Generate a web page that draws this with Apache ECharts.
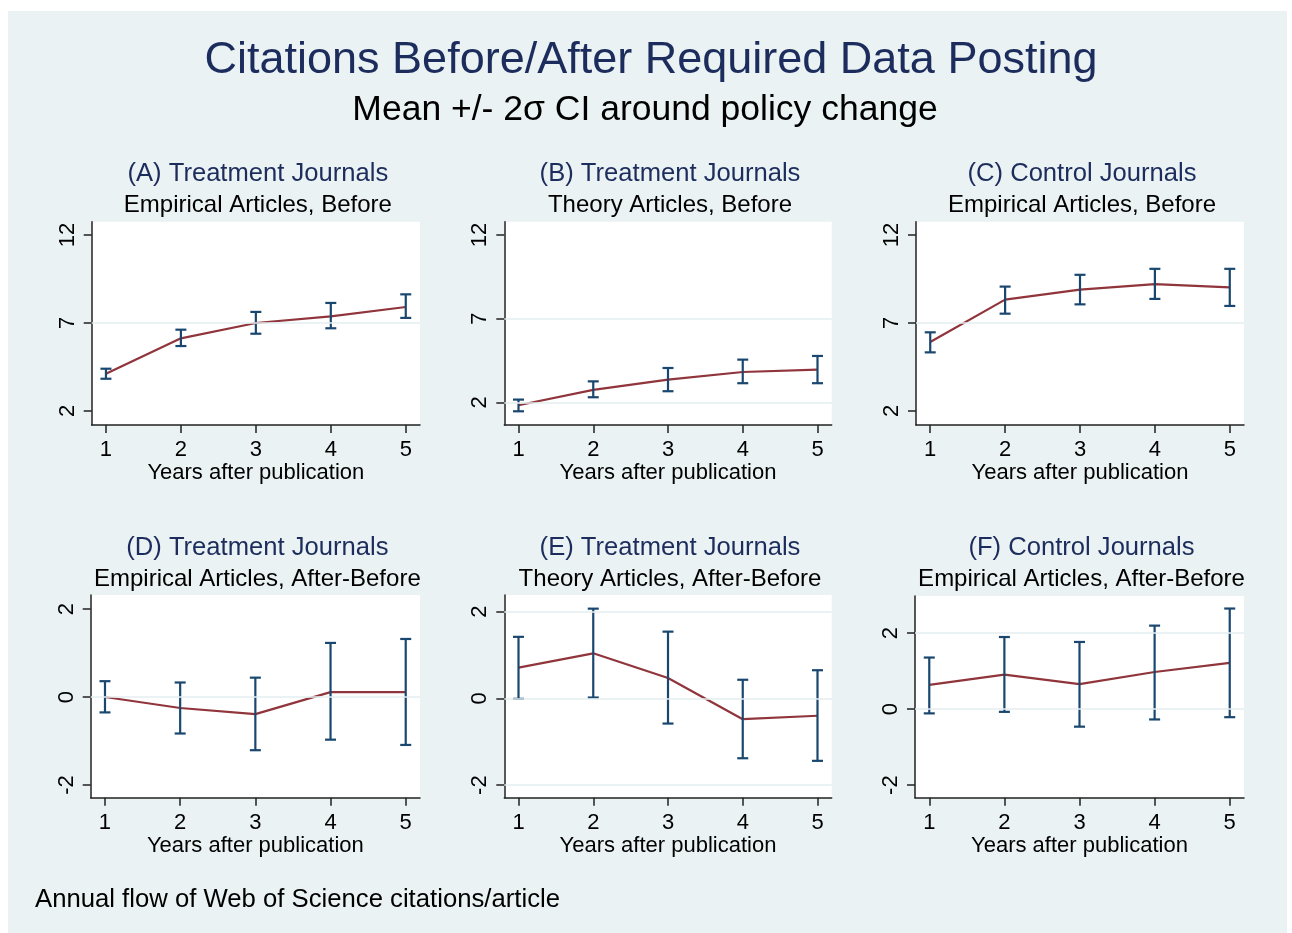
<!DOCTYPE html>
<html>
<head>
<meta charset="utf-8">
<script src="https://cdn.jsdelivr.net/npm/echarts@6/dist/echarts.min.js"></script>
<style>
  html, body { margin: 0; padding: 0; background: #ffffff; }
  #bg { position: absolute; left: 8px; top: 11px; width: 1279px; height: 922px; background: #eaf2f3; }
  #chart { position: absolute; left: 0; top: 0; width: 1292px; height: 933px; }
</style>
</head>
<body>
<div id="bg"></div>
<div id="chart"></div>
<script>
// ---------------- data ----------------
const years = [1, 2, 3, 4, 5];
const xTicks = [1, 2, 3, 4, 5];
const yTicksBefore = [2, 7, 12];
const yTicksDiff = [-2, 0, 2];

const mainTitle = 'Citations Before/After Required Data Posting';
const mainSubtitle = 'Mean +/- 2\u03c3 CI around policy change';
const footnote = 'Annual flow of Web of Science citations/article';
const xAxisName = 'Years after publication';

const panelTitles = ['(A) Treatment Journals', '(B) Treatment Journals', '(C) Control Journals',
                     '(D) Treatment Journals', '(E) Treatment Journals', '(F) Control Journals'];
const panelSubtitles = ['Empirical Articles, Before', 'Theory Articles, Before', 'Empirical Articles, Before',
                        'Empirical Articles, After-Before', 'Theory Articles, After-Before', 'Empirical Articles, After-Before'];

// (A) Treatment, empirical, before
const meanA = [4.11, 6.13, 7.00, 7.38, 7.91];
const lowA  = [3.83, 5.69, 6.39, 6.70, 7.29];
const highA = [4.40, 6.62, 7.63, 8.14, 8.63];
// (B) Treatment, theory, before
const meanB = [1.82, 2.74, 3.35, 3.81, 3.95];
const lowB  = [1.46, 2.30, 2.66, 3.14, 3.14];
const highB = [2.16, 3.25, 4.05, 4.55, 4.77];
// (C) Control, empirical, before
const meanC = [5.92, 8.33, 8.90, 9.21, 9.03];
const lowC  = [5.33, 7.53, 8.06, 8.37, 7.97];
const highC = [6.47, 9.07, 9.74, 10.08, 10.08];
// (D) Treatment, empirical, after-before
const meanD = [0.00, -0.25, -0.39, 0.11, 0.11];
const lowD  = [-0.35, -0.83, -1.21, -0.97, -1.09];
const highD = [0.36, 0.33, 0.44, 1.23, 1.32];
// (E) Treatment, theory, after-before
const meanE = [0.71, 1.04, 0.47, -0.48, -0.40];
const lowE  = [-0.01, 0.02, -0.58, -1.38, -1.44];
const highE = [1.42, 2.07, 1.54, 0.43, 0.65];
// (F) Control, empirical, after-before
const meanF = [0.64, 0.91, 0.66, 0.98, 1.22];
const lowF  = [-0.11, -0.07, -0.46, -0.27, -0.21];
const highF = [1.36, 1.90, 1.77, 2.20, 2.65];

// grid lines drawn by the original (values on the y scale)
const gridLinesA = [7];
const gridLinesB = [2, 7];
const gridLinesC = [7];
const gridLinesD = [0];
const gridLinesE = [-2, 0, 2];
const gridLinesF = [0, 2];

// ---------------- layout / style ----------------
const FONT = 'Liberation Sans, Arial, sans-serif';
const NAVY = '#1a476f';
const MAROON = '#90353b';
const TITLE_NAVY = '#1c2c5c';
const GRIDC = '#e4eef0';

const panels = [
  { mean: meanA, low: lowA, high: highA, ticks: yTicksBefore, gl: gridLinesA, ymin: 1.20, ymax: 12.76,
    grid: { left: 91.7, top: 221.7, width: 328.3, height: 203.3 } },
  { mean: meanB, low: lowB, high: highB, ticks: yTicksBefore, gl: gridLinesB, ymin: 0.64, ymax: 12.80,
    grid: { left: 504.3, top: 221.7, width: 327.4, height: 203.3 } },
  { mean: meanC, low: lowC, high: highC, ticks: yTicksBefore, gl: gridLinesC, ymin: 1.20, ymax: 12.76,
    grid: { left: 916, top: 221.7, width: 328, height: 203.3 } },
  { mean: meanD, low: lowD, high: highD, ticks: yTicksDiff, gl: gridLinesD, ymin: -2.29, ymax: 2.32,
    grid: { left: 90.7, top: 595, width: 329.3, height: 202.7 } },
  { mean: meanE, low: lowE, high: highE, ticks: yTicksDiff, gl: gridLinesE, ymin: -2.29, ymax: 2.385,
    grid: { left: 504.3, top: 595, width: 327.4, height: 202.7 } },
  { mean: meanF, low: lowF, high: highF, ticks: yTicksDiff, gl: gridLinesF, ymin: -2.33, ymax: 2.98,
    grid: { left: 915, top: 596, width: 329, height: 201.7 } }
];

const grids = [], xAxes = [], yAxes = [], series = [], graphics = [];

function errorBarRender(params, api) {
  const x = api.value(0), lo = api.value(1), hi = api.value(2);
  const pLo = api.coord([x, lo]);
  const pHi = api.coord([x, hi]);
  const hw = 5.5;
  const st = { stroke: NAVY, lineWidth: 2.2 };
  return {
    type: 'group',
    children: [
      { type: 'line', shape: { x1: pLo[0], y1: pLo[1], x2: pHi[0], y2: pHi[1] }, style: st },
      { type: 'line', shape: { x1: pLo[0] - hw, y1: pLo[1], x2: pLo[0] + hw, y2: pLo[1] }, style: st },
      { type: 'line', shape: { x1: pHi[0] - hw, y1: pHi[1], x2: pHi[0] + hw, y2: pHi[1] }, style: st }
    ]
  };
}

panels.forEach((p, i) => {
  grids.push(Object.assign({ show: true, backgroundColor: '#ffffff', borderWidth: 0 }, p.grid));
  xAxes.push({
    type: 'value', gridIndex: i, min: 0.81, max: 5.19,
    name: xAxisName, nameLocation: 'middle', nameGap: 34,
    nameTextStyle: { fontFamily: FONT, fontSize: 22, color: '#000' },
    axisLine: { show: true, onZero: false, lineStyle: { color: '#222', width: 1.5 } },
    axisTick: { show: true, length: 8, lineStyle: { color: '#222', width: 1.5 }, customValues: xTicks },
    axisLabel: { fontFamily: FONT, fontSize: 22, color: '#000', margin: 14, customValues: xTicks },
    splitLine: { show: false }
  });
  yAxes.push({
    type: 'value', gridIndex: i, min: p.ymin, max: p.ymax,
    axisLine: { show: true, onZero: false, lineStyle: { color: '#222', width: 1.5 } },
    axisTick: { show: true, length: 8, lineStyle: { color: '#222', width: 1.5 }, customValues: p.ticks },
    axisLabel: { fontFamily: FONT, fontSize: 22, color: '#000', margin: 13, rotate: 90, customValues: p.ticks },
    splitLine: { show: false }
  });
  // grid lines
  series.push({
    type: 'line', xAxisIndex: i, yAxisIndex: i, data: [], z: 1, silent: true,
    markLine: {
      silent: true, symbol: ['none', 'none'], label: { show: false }, animation: false,
      lineStyle: { color: GRIDC, width: 1.5, type: 'solid' },
      data: p.gl.map(v => ({ yAxis: v }))
    }
  });
  // mean line
  series.push({
    type: 'line', xAxisIndex: i, yAxisIndex: i, z: 3, symbol: 'none', animation: false,
    lineStyle: { color: MAROON, width: 2.2 },
    data: years.map((y, k) => [y, p.mean[k]])
  });
  // error bars
  series.push({
    type: 'custom', xAxisIndex: i, yAxisIndex: i, z: 4, animation: false,
    renderItem: errorBarRender,
    encode: { x: 0, y: [1, 2] },
    data: years.map((y, k) => [y, p.low[k], p.high[k]])
  });
  const cx = p.grid.left + p.grid.width / 2 + 2;
  const rowTop = i < 3 ? 173.5 : 547.5;
  graphics.push({ type: 'text', x: cx, y: rowTop, style: { text: panelTitles[i], fill: TITLE_NAVY,
    font: '25.6px ' + FONT, textAlign: 'center', textVerticalAlign: 'middle' } });
  graphics.push({ type: 'text', x: cx, y: rowTop + 31.5, style: { text: panelSubtitles[i], fill: '#000',
    font: '24px ' + FONT, textAlign: 'center', textVerticalAlign: 'middle' } });
});

graphics.push({ type: 'text', x: 651, y: 60.5, style: { text: mainTitle, fill: TITLE_NAVY,
  font: '45px ' + FONT, textAlign: 'center', textVerticalAlign: 'middle' } });
graphics.push({ type: 'text', x: 645, y: 110, style: { text: mainSubtitle, fill: '#000',
  font: '35.5px ' + FONT, textAlign: 'center', textVerticalAlign: 'middle' } });
graphics.push({ type: 'text', x: 35, y: 900, style: { text: footnote, fill: '#000',
  font: '25.7px ' + FONT, textAlign: 'left', textVerticalAlign: 'middle' } });

const chart = echarts.init(document.getElementById('chart'), null, { renderer: 'canvas' });
chart.setOption({
  backgroundColor: 'transparent',
  animation: false,
  grid: grids,
  xAxis: xAxes,
  yAxis: yAxes,
  series: series,
  graphic: graphics
});
</script>
</body>
</html>
